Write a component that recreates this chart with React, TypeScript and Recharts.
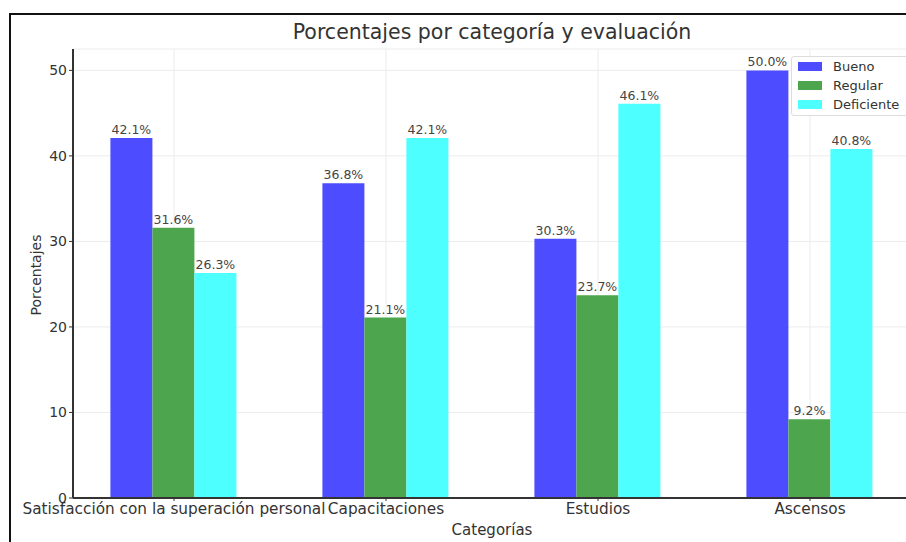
import React from 'react';
import { Bar, BarChart, CartesianGrid, LabelList, XAxis, YAxis } from 'recharts';

const categories = [
  'Satisfacción con la superación personal',
  'Capacitaciones',
  'Estudios',
  'Ascensos',
];
const bueno = [42.1, 36.8, 30.3, 50.0];
const regular = [31.6, 21.1, 23.7, 9.2];
const deficiente = [26.3, 42.1, 46.1, 40.8];
const yTicks = [0, 10, 20, 30, 40, 50];

const series = [
  { key: 'Bueno', color: '#4d4dff', values: bueno },
  { key: 'Regular', color: '#4da64d', values: regular },
  { key: 'Deficiente', color: '#4dffff', values: deficiente },
];

const data = categories.map((cat, i) => ({
  categoria: cat,
  Bueno: bueno[i],
  Regular: regular[i],
  Deficiente: deficiente[i],
}));

const font = '"DejaVu Sans", sans-serif';

export default function App() {
  return (
    <div
      style={{
        position: 'fixed',
        left: 0,
        top: 0,
        width: 906,
        height: 542,
        overflow: 'hidden',
        background: '#fff',
        fontFamily: font,
      }}
    >
      {/* image frame */}
      <div
        style={{
          position: 'absolute',
          left: 9,
          top: 13,
          width: 1000,
          height: 1000,
          border: '2px solid #111',
        }}
      />
      <div
        style={{
          position: 'absolute',
          left: 72,
          width: 840,
          top: 20,
          textAlign: 'center',
          fontSize: 20.5,
          color: '#333',
        }}
      >
        Porcentajes por categoría y evaluación
      </div>
      <div
        style={{
          position: 'absolute',
          left: 36,
          top: 275,
          transform: 'translate(-50%, -50%) rotate(-90deg)',
          fontSize: 14,
          color: '#333',
          whiteSpace: 'nowrap',
        }}
      >
        Porcentajes
      </div>
      <div
        style={{
          position: 'absolute',
          left: 72,
          width: 840,
          top: 521,
          textAlign: 'center',
          fontSize: 15,
          color: '#333',
        }}
      >
        Categorías
      </div>

      <BarChart
        width={940}
        height={542}
        data={data}
        margin={{ top: 49, right: 24, bottom: 14, left: 13 }}
        barCategoryGap="20%"
        barGap={0}
        style={{ position: 'absolute', left: 0, top: 0 }}
      >
        <CartesianGrid stroke="#ececec" strokeWidth={1} />
        <XAxis
          dataKey="categoria"
          interval={0}
          height={30}
          padding={{ left: -5, right: 0 }}
          tickSize={3}
          tickMargin={2}
          axisLine={{ stroke: '#333', strokeWidth: 2 }}
          tickLine={{ stroke: '#333' }}
          tick={{ fill: '#333', fontSize: 15.3, fontFamily: font }}
        />
        <YAxis
          width={60}
          domain={[0, 52.5]}
          ticks={yTicks}
          tickSize={4}
          tickMargin={2}
          axisLine={{ stroke: '#333', strokeWidth: 2 }}
          tickLine={{ stroke: '#333' }}
          tick={{ fill: '#333', fontSize: 14, fontFamily: font }}
        />
        {series.map((s) => (
          <Bar key={s.key} dataKey={s.key} fill={s.color} isAnimationActive={false}>
            <LabelList
              dataKey={s.key}
              position="top"
              offset={4}
              formatter={(v: number) => `${v.toFixed(1)}%`}
              style={{ fill: '#444', fontSize: 12.5, fontFamily: font }}
            />
          </Bar>
        ))}
      </BarChart>

      {/* legend */}
      <div
        style={{
          position: 'absolute',
          left: 791,
          top: 56,
          width: 120,
          height: 60,
          background: 'rgba(255,255,255,0.9)',
          border: '1px solid #ddd',
          borderRadius: 3,
          boxSizing: 'border-box',
          padding: '0 0 0 6px',
        }}
      >
        {series.map((s) => (
          <div
            key={s.key}
            style={{ display: 'flex', alignItems: 'center', height: 19, fontSize: 13, color: '#333' }}
          >
            <span style={{ display: 'inline-block', width: 24, height: 9, background: s.color, marginRight: 11 }} />
            {s.key}
          </div>
        ))}
      </div>
    </div>
  );
}
